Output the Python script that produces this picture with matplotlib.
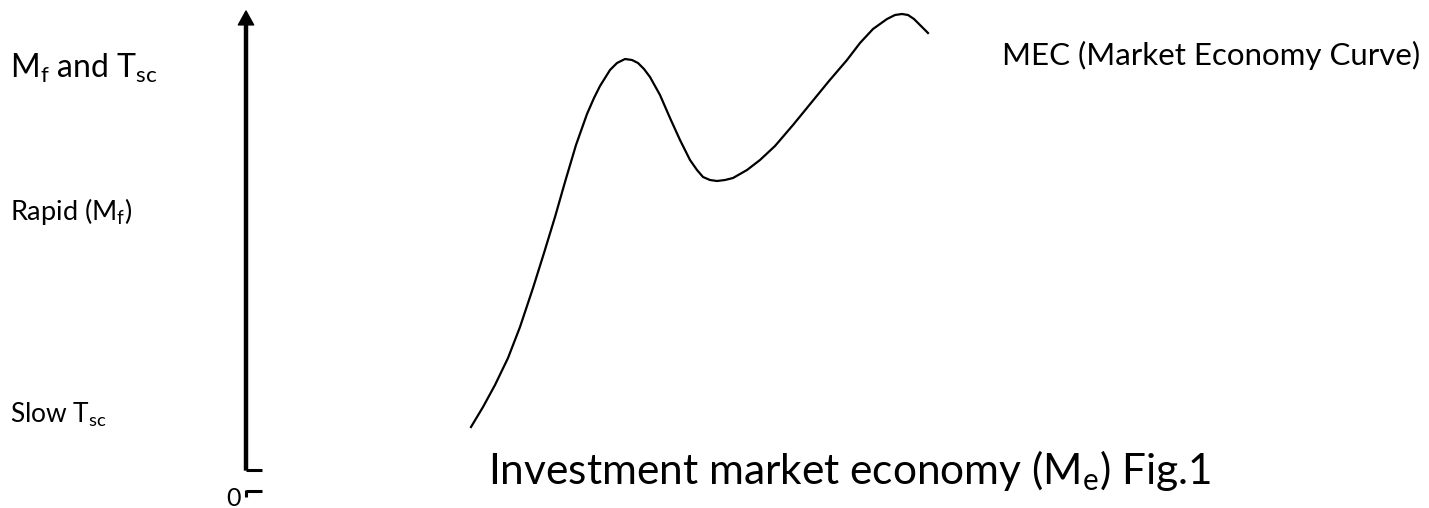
import numpy as np
import matplotlib.pyplot as plt
import matplotlib

matplotlib.rcParams['font.family'] = ['Lato', 'DejaVu Sans']
matplotlib.rcParams['mathtext.default'] = 'regular'

# MEC curve in pixel coordinates (x right, y down)
curve_x = [471, 483, 495, 508, 520, 533, 544, 555, 565, 576, 587, 594, 600,
           610, 617, 625, 632, 638, 644, 650, 660, 670, 680, 690, 697, 703,
           710, 717, 725, 733, 747, 760, 775, 793, 811, 829, 847, 860, 873,
           887, 895, 902, 908, 914, 920, 928]
curve_y = [427, 407, 385, 358, 327, 288, 253, 217, 182, 145, 114, 98, 86,
           70, 63, 59, 60, 63, 69, 77, 95, 118, 140, 160, 170, 177,
           180, 181, 180, 178, 170, 160, 146, 125, 103, 81, 60, 43, 29,
           19, 15, 14, 15, 19, 25, 33]

y_labels = ['M$_{f}$ and T$_{sc}$', 'Rapid (M$_{f}$)', 'Slow T$_{sc}$']
y_label_base = [78, 220, 423]
y_label_size = [23, 19.5, 19]
zero_label = '0'
curve_label = 'MEC (Market Economy Curve)'
x_title = 'Investment market economy (M$_{e}$) Fig.1'

W, H = 1429, 508
fig = plt.figure(figsize=(W / 100, H / 100), dpi=100)
ax = fig.add_axes([0, 0, 1, 1])
ax.set_xlim(0, W)
ax.set_ylim(H, 0)
ax.axis('off')

# vertical axis with arrow head
ax.annotate('', xy=(246, 11), xytext=(246, 470),
            arrowprops=dict(width=2.2, headwidth=11, headlength=10,
                            facecolor='k', edgecolor='k', shrink=0))
# small origin ticks
ax.plot([246, 262], [470, 470], color='k', lw=2.2, solid_capstyle='butt')
ax.plot([246, 262], [491, 491], color='k', lw=2.2, solid_capstyle='butt')
ax.plot([246, 246], [490, 497], color='k', lw=2.2, solid_capstyle='butt')

ax.plot(curve_x, curve_y, color='k', lw=1.6, solid_joinstyle='round')

for lab, yy, fs in zip(y_labels, y_label_base, y_label_size):
    ax.text(10, yy, lab, fontsize=fs, va='baseline', ha='left')
ax.text(234, 506, zero_label, fontsize=18, va='baseline', ha='center')
ax.text(1002, 65, curve_label, fontsize=22.5, va='baseline', ha='left')
ax.text(488, 484, x_title, fontsize=30.5, va='baseline', ha='left')

fig.savefig('out.png', dpi=100)
